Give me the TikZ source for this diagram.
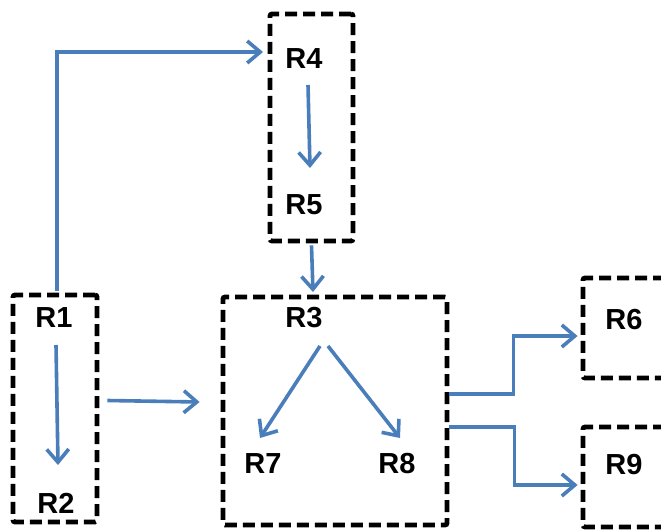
\documentclass[tikz,border=0pt]{standalone}
\usepackage{fontspec}
\setmainfont{Liberation Sans}
\usetikzlibrary{arrows.meta,calc}
\definecolor{flowblue}{RGB}{74,126,187}
\tikzset{
  regbox/.style={draw=black, line width=4.8pt, dash pattern=on 12pt off 6pt, rounded corners=2pt, inner sep=0pt, fill=none},
  lbl/.style={inner sep=0pt, font=\fontsize{29}{29}\selectfont\bfseries},
  arr/.style={draw=flowblue, line width=3.6pt, -{Straight Barb[length=13pt,width=22pt,line width=3.6pt]}}
}
\begin{document}
\begin{tikzpicture}[x=1pt,y=-1pt]
\useasboundingbox (0,0) rectangle (661,530);
\clip (0,0) rectangle (661,530);
% boxes
\node[regbox, minimum width=84pt, minimum height=227pt] (boxA) at (55,408.5) {};
\node[regbox, minimum width=83pt, minimum height=227pt] (boxB) at (311.5,127.5) {};
\node[regbox, minimum width=224pt, minimum height=228pt] (boxC) at (335,411) {};
\node[regbox, minimum width=120pt, minimum height=100pt] (boxD) at (643,328) {};
\node[regbox, minimum width=120pt, minimum height=100pt] (boxE) at (643,477) {};
% labels
\node[lbl] (lR1) at (54,318) {R1};
\node[lbl] (lR2) at (56,503) {R2};
\node[lbl] (lR3) at (304,318) {R3};
\node[lbl] (lR4) at (304,59) {R4};
\node[lbl] (lR5) at (304,205) {R5};
\node[lbl] (lR6) at (624,320) {R6};
\node[lbl] (lR7) at (263,464) {R7};
\node[lbl] (lR8) at (397,464) {R8};
\node[lbl] (lR9) at (624,465) {R9};
\coordinate (t4) at (263,52);
% connectors
\draw[arr] ($(boxA.north)+(2,-2)$) |- (t4);
\draw[arr] ($(lR1)+(2,27)$) -- ($(lR2)+(2,-38)$);
\draw[arr] ($(boxA.east)+(8,-8)$) -- ($(boxC.west)+(-21,-9)$);
\draw[arr] ($(lR4)+(4,26)$) -- ($(lR5)+(6,-37)$);
\draw[arr] ($(boxB.south)+(0,2)$) -- ($(lR3)+(9,-26)$);
\draw[arr] ($(lR3)+(16,28)$) -- ($(lR7)+(-3,-26)$);
\draw[arr] ($(lR3)+(24,28)$) -- ($(lR8)+(3,-26)$);
\draw[arr] ($(boxC.east)+(0,-17)$) -- ++(64,0) |- ($(boxD.west)+(-3,8)$);
\draw[arr] ($(boxC.east)+(0,16)$) -- ++(65,0) |- ($(boxE.west)+(-3,8)$);
\end{tikzpicture}
\end{document}
